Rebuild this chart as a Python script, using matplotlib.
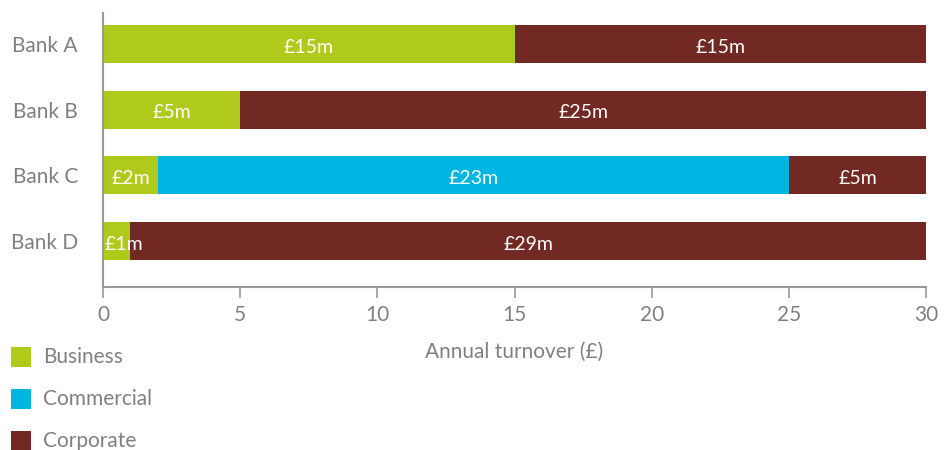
import matplotlib.pyplot as plt
from matplotlib.patches import Rectangle

banks = ["Bank A", "Bank B", "Bank C", "Bank D"]
business = [15, 5, 2, 1]
commercial = [0, 0, 23, 0]
corporate = [15, 25, 5, 29]
series_names = ["Business", "Commercial", "Corporate"]
colors = ["#AFCA1A", "#00B5E2", "#722823"]
xticks = [0, 5, 10, 15, 20, 25, 30]

grey = "#808080"
plt.rcParams["font.family"] = ["Lato", "DejaVu Sans"]

W, H = 952, 450
fig = plt.figure(figsize=(W / 100, H / 100), dpi=100)
ax = fig.add_axes([103 / W, 1 - 287 / H, (926 - 103) / W, (287 - 13) / H])

ypos = list(range(len(banks)))
left = [0] * len(banks)
for vals, color in zip([business, commercial, corporate], colors):
    ax.barh(ypos, vals, left=left, height=0.58, color=color, linewidth=0)
    for y, v, l in zip(ypos, vals, left):
        if v <= 0:
            continue
        if v < 1.5:
            # too narrow for a centred label: start it at the bar's left edge
            ax.text(l + 0.05, y + 0.05, f"£{v}m", color="white", fontsize=14,
                    ha="left", va="center")
        else:
            ax.text(l + v / 2, y + 0.05, f"£{v}m", color="white", fontsize=14,
                    ha="center", va="center")
    left = [a + b for a, b in zip(left, vals)]

ax.set_xlim(0, 30)
ax.set_ylim(3.70, -0.47)
ax.set_yticks(ypos)
ax.set_yticklabels(banks, fontsize=15, color=grey)
ax.set_xticks(xticks)
ax.set_xticklabels([str(t) for t in xticks], fontsize=15, color=grey)
ax.tick_params(axis="y", length=0, pad=18)
ax.tick_params(axis="x", length=8, width=1.2, color="#999999", pad=5, direction="out")
for side in ["top", "right"]:
    ax.spines[side].set_visible(False)
for side in ["left", "bottom"]:
    ax.spines[side].set_color("#999999")
    ax.spines[side].set_linewidth(1.5)
ax.set_xlabel("Annual turnover (£)", fontsize=15, color=grey, labelpad=12)

# legend: coloured squares with labels, stacked below the axis
legend_rows = [357, 399, 441]
for name, color, yc in zip(series_names, colors, legend_rows):
    fig.patches.append(Rectangle((11 / W, 1 - (yc + 10) / H), 20 / W, 20 / H,
                                 transform=fig.transFigure, facecolor=color,
                                 edgecolor="none"))
    fig.text(43 / W, 1 - yc / H, name, fontsize=15, color=grey,
             ha="left", va="center")

fig.savefig("out.png", dpi=100)
